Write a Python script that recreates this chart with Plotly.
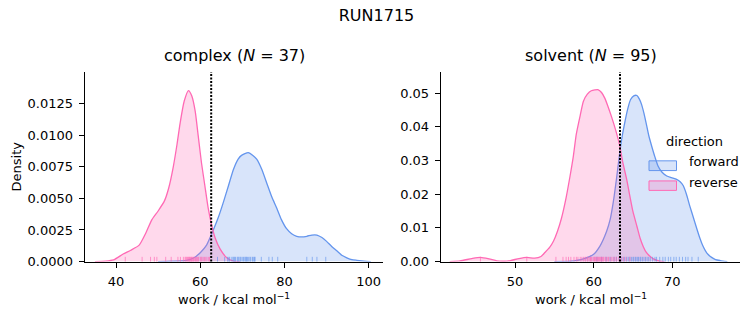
import plotly.graph_objects as go

# ---------------- data ----------------
complex_fwd_x = [50.0, 53.0, 56.8, 58.5, 60.0, 61.5, 63.1, 64.3, 65.5, 66.7, 67.9, 69.0, 69.8, 71.4, 72.5,
                 73.4, 74.6, 75.8, 77.0, 78.2, 79.3, 80.5, 81.7, 82.9, 84.1, 85.3, 86.5, 87.7, 88.9, 90.0,
                 91.2, 92.4, 93.6, 94.8, 96.0, 97.2, 99.5, 100.5]
complex_fwd_y = [0.0, 0.00003, 0.0001, 0.0003, 0.0007, 0.0013, 0.0025, 0.0035, 0.0047, 0.0060, 0.0073,
                 0.0081, 0.0084, 0.00862, 0.0084, 0.0081, 0.0073, 0.0062, 0.0051, 0.0042, 0.0033, 0.0026,
                 0.0022, 0.0020, 0.00195, 0.0020, 0.0021, 0.0021, 0.0019, 0.0016, 0.0012, 0.00085,
                 0.0005, 0.0003, 0.00015, 0.0001, 0.00002, 0.0]

complex_rev_x = [35.0, 37.5, 39.4, 41.7, 43.5, 45.5, 47.0, 48.5, 50.0, 51.5, 52.5, 53.6, 54.5, 55.2, 56.2,
                 57.2, 58.0, 58.8, 59.5, 60.3, 61.1, 61.9, 62.7, 63.5, 64.7, 66.3, 67.9, 69.5]
complex_rev_y = [0.0, 0.00003, 0.00013, 0.0006, 0.0009, 0.0013, 0.0022, 0.0033, 0.0040, 0.0048, 0.0058,
                 0.0075, 0.0093, 0.0109, 0.0127, 0.01353, 0.0131, 0.0119, 0.0100, 0.0078, 0.0060,
                 0.0042, 0.0029, 0.0019, 0.0010, 0.0003, 0.00003, 0.0]

solvent_fwd_x = [55.0, 57.0, 58.7, 60.0, 60.8, 61.65, 62.1, 62.5, 62.9, 63.3, 63.65, 64.0, 64.35, 64.7,
                 65.1, 65.5, 65.8, 66.1, 66.4, 66.7, 67.0, 67.4, 67.8, 68.2, 68.7, 69.3, 69.9, 70.55,
                 71.0, 71.4, 71.8, 72.2, 72.65, 73.1, 73.5, 73.9, 74.4, 75.0, 75.5, 76.1, 77.0]
solvent_fwd_y = [0.0, 0.0001, 0.0008, 0.0022, 0.0046, 0.0090, 0.0125, 0.0177, 0.0245, 0.0320, 0.0375,
                 0.0418, 0.0455, 0.0481, 0.0492, 0.0493, 0.0483, 0.0466, 0.0440, 0.0408, 0.0375,
                 0.0341, 0.0310, 0.0283, 0.0265, 0.0254, 0.0249, 0.0244, 0.0237, 0.0225, 0.0200,
                 0.0167, 0.0133, 0.0099, 0.0070, 0.0046, 0.0025, 0.00125, 0.0006, 0.0003, 0.0]

solvent_rev_x = [41.7, 43.0, 44.5, 45.6, 46.7, 47.7, 48.6, 49.4, 50.5, 51.5, 52.5, 53.3, 53.8, 54.4, 54.9,
                 55.4, 55.9, 56.5, 57.0, 57.4, 57.8, 58.3, 58.7, 59.2, 59.7, 60.6, 61.0, 61.4, 61.8,
                 62.3, 62.8, 63.3, 63.7, 64.2, 64.6, 65.0, 65.5, 65.9, 66.3, 66.7, 67.2, 67.6, 68.4, 69.0]
solvent_rev_y = [0.0, 0.0002, 0.0009, 0.00125, 0.0008, 0.0002, 0.0001, 0.0003, 0.0009, 0.00125, 0.0010,
                 0.0015, 0.0027, 0.0042, 0.0061, 0.0090, 0.0128, 0.0190, 0.0254, 0.0310, 0.0379,
                 0.0435, 0.0476, 0.0497, 0.0507, 0.0510, 0.0502, 0.0486, 0.0462, 0.0428, 0.0390,
                 0.0346, 0.0295, 0.0244, 0.0195, 0.0148, 0.0105, 0.0070, 0.0045, 0.0027, 0.0015,
                 0.0008, 0.0001, 0.0]

complex_fwd_rug = [64.1, 65.8, 66.5, 66.8, 67.0, 67.5, 67.8, 68.0, 68.2, 68.4, 68.8, 69.0, 69.2, 69.5,
                   69.7, 70.1, 70.3, 70.6, 70.8, 71.0, 71.2, 71.5, 71.8, 72.0, 72.4, 72.6, 72.9, 73.0,
                   74.5, 76.3, 77.1, 78.4, 85.3, 86.6, 87.7, 89.8]
complex_rev_rug = [42.2, 46.2, 48.2, 49.1, 49.7, 51.8, 53.1, 54.7, 55.3, 56.0, 56.4, 56.6, 56.8, 57.0,
                   57.2, 57.4, 57.5, 57.7, 57.9, 58.0, 58.2, 58.4, 58.6, 58.9, 59.0, 59.2, 59.4, 59.6,
                   60.0, 60.2, 60.4, 60.7, 61.0, 61.3, 61.6, 62.0, 62.2]
solvent_fwd_rug = [60.4, 61.0, 61.6, 62.1, 62.6, 62.9, 63.3, 63.6, 63.9, 64.2, 64.4, 64.6, 64.8, 65.0,
                   65.1, 65.3, 65.4, 65.6, 65.7, 65.9, 66.0, 66.2, 66.4, 66.6, 66.8, 67.0, 67.2, 67.5,
                   67.8, 68.0, 68.4, 68.8, 69.1, 69.5, 69.8, 70.2, 70.5, 70.9, 71.3, 71.7, 72.0, 72.5,
                   73.3]
solvent_rev_rug = [45.6, 51.5, 55.2, 56.1, 56.5, 56.8, 57.1, 57.5, 57.8, 58.0, 58.3, 58.5, 58.7, 58.9,
                   59.0, 59.2, 59.3, 59.5, 59.6, 59.7, 59.8, 60.0, 60.1, 60.2, 60.3, 60.4, 60.5, 60.6,
                   60.7, 60.8, 60.9, 61.0, 61.1, 61.2, 61.3, 61.5, 61.6, 61.8, 61.9, 62.1, 62.3, 62.5,
                   62.7, 62.9, 63.2, 63.5, 63.8, 64.1, 64.6]

complex_ref = 62.6
solvent_ref = 63.35

suptitle = "RUN1715"
panel_titles = ["complex (<i>N</i> = 37)", "solvent (<i>N</i> = 95)"]
xlabel = "work / kcal mol<sup>−1</sup>"
ylabel = "Density"
legend_title = "direction"
legend_labels = ["forward", "reverse"]

complex_xticks = [40, 60, 80, 100]
complex_yticks = [0.0, 0.0025, 0.005, 0.0075, 0.01, 0.0125]
complex_yticktext = ["0.0000", "0.0025", "0.0050", "0.0075", "0.0100", "0.0125"]
solvent_xticks = [50, 60, 70]
solvent_yticks = [0.0, 0.01, 0.02, 0.03, 0.04, 0.05]
solvent_yticktext = ["0.00", "0.01", "0.02", "0.03", "0.04", "0.05"]

# ---------------- styles ----------------
BLUE = "#6495ED"
PINK = "#FF69B4"
BLUE_FILL = "rgba(100,149,237,0.25)"
PINK_FILL = "rgba(255,105,180,0.25)"
BLUE_RUG = "rgba(100,149,237,0.65)"
PINK_RUG = "rgba(255,105,180,0.65)"
FONT = "DejaVu Sans"
# offset of the figure inside the 753x325 window (found empirically)
OX, OY = 8, 1
W, H = 753 - OX, 325 - OY

fig = go.Figure()

def add_kde(x, y, color, fill, xa, ya):
    fig.add_trace(go.Scatter(
        x=x, y=y, mode="lines", line=dict(color=color, width=1.3, shape="spline", smoothing=0.6),
        fill="tozeroy", fillcolor=fill, xaxis=xa, yaxis=ya, showlegend=False, hoverinfo="skip"))

add_kde(complex_fwd_x, complex_fwd_y, BLUE, BLUE_FILL, "x", "y")
add_kde(complex_rev_x, complex_rev_y, PINK, PINK_FILL, "x", "y")
add_kde(solvent_fwd_x, solvent_fwd_y, BLUE, BLUE_FILL, "x2", "y2")
add_kde(solvent_rev_x, solvent_rev_y, PINK, PINK_FILL, "x2", "y2")

shapes = []
def add_rug(vals, color, xref, yref):
    for v in vals:
        shapes.append(dict(type="line", xref=xref, yref=yref + " domain", x0=v, x1=v, y0=0, y1=0.025,
                           line=dict(color=color, width=1)))

add_rug(complex_fwd_rug, BLUE_RUG, "x", "y")
add_rug(complex_rev_rug, PINK_RUG, "x", "y")
add_rug(solvent_fwd_rug, BLUE_RUG, "x2", "y2")
add_rug(solvent_rev_rug, PINK_RUG, "x2", "y2")

for ref, xr, yr in [(complex_ref, "x", "y"), (solvent_ref, "x2", "y2")]:
    shapes.append(dict(type="line", xref=xr, yref=yr + " domain", x0=ref, x1=ref, y0=0, y1=1,
                       line=dict(color="black", width=2, dash="2px,1.5px")))

# pixel (window coords) -> paper coords
def px_x(p):
    return (p - OX) / W
def px_y(p):
    return 1 - (p - OY) / H

for (y0, y1), col, fillc in [((157.7, 167.7), BLUE, BLUE_FILL), ((178.3, 188.0), PINK, PINK_FILL)]:
    shapes.append(dict(type="rect", xref="paper", yref="paper", x0=px_x(649), x1=px_x(676.5),
                       y0=px_y(y1), y1=px_y(y0), fillcolor=fillc, line=dict(color=col, width=1)))

def note(text, x, y, size, anchor="center", angle=0, yanchor="middle", pad=1):
    return dict(text=text, x=px_x(x), y=px_y(y), xref="paper", yref="paper", showarrow=False,
                textangle=angle, font=dict(size=size, family=FONT, color="black"),
                xanchor=anchor, yanchor=yanchor, borderpad=pad)

annotations = [
    note(panel_titles[0], 234, 49.5, 16),
    note(panel_titles[1], 590.5, 49.5, 16),
    note(xlabel, 234, 299, 13),
    note(xlabel, 590.5, 299, 13),
    note(ylabel, OX, 164, 13, anchor="left", angle=-90, pad=0),
    note(legend_title, 694.5, 138, 13),
    note(legend_labels[0], 687, 158.5, 13, anchor="left"),
    note(legend_labels[1], 687, 179.5, 13, anchor="left"),
]

axis_common = dict(showgrid=False, zeroline=False, showline=True, linecolor="black", linewidth=1,
                   ticks="outside", ticklen=5, tickwidth=1, tickcolor="black",
                   tickfont=dict(size=13, family=FONT, color="black"), ticklabelstandoff=3)

ydom = [px_y(261), px_y(66.7)]
fig.update_layout(
    width=W, height=H, margin=dict(l=0, r=0, t=0, b=0),
    paper_bgcolor="white", plot_bgcolor="white", showlegend=False,
    font=dict(family=FONT, color="black"),
    title=dict(text=suptitle, x=px_x(376.5), xanchor="center", xref="container",
               y=1.0, yanchor="top", yref="container", pad=dict(t=2, b=0, l=0, r=0),
               font=dict(size=16, family=FONT, color="black")),
    xaxis=dict(domain=[px_x(84.7), px_x(383.3)], range=[32.57, 103.46], tickvals=complex_xticks,
               anchor="y", **axis_common),
    yaxis=dict(domain=ydom, range=[0, 0.01499], tickvals=complex_yticks, ticktext=complex_yticktext,
               anchor="x", **axis_common),
    xaxis2=dict(domain=[px_x(440.7), px_x(740)], range=[40.55, 78.61], tickvals=solvent_xticks,
                anchor="y2", **axis_common),
    yaxis2=dict(domain=ydom, range=[0, 0.05625], tickvals=solvent_yticks, ticktext=solvent_yticktext,
                anchor="x2", **axis_common),
    shapes=shapes, annotations=annotations,
)

fig.write_html("out.html")
